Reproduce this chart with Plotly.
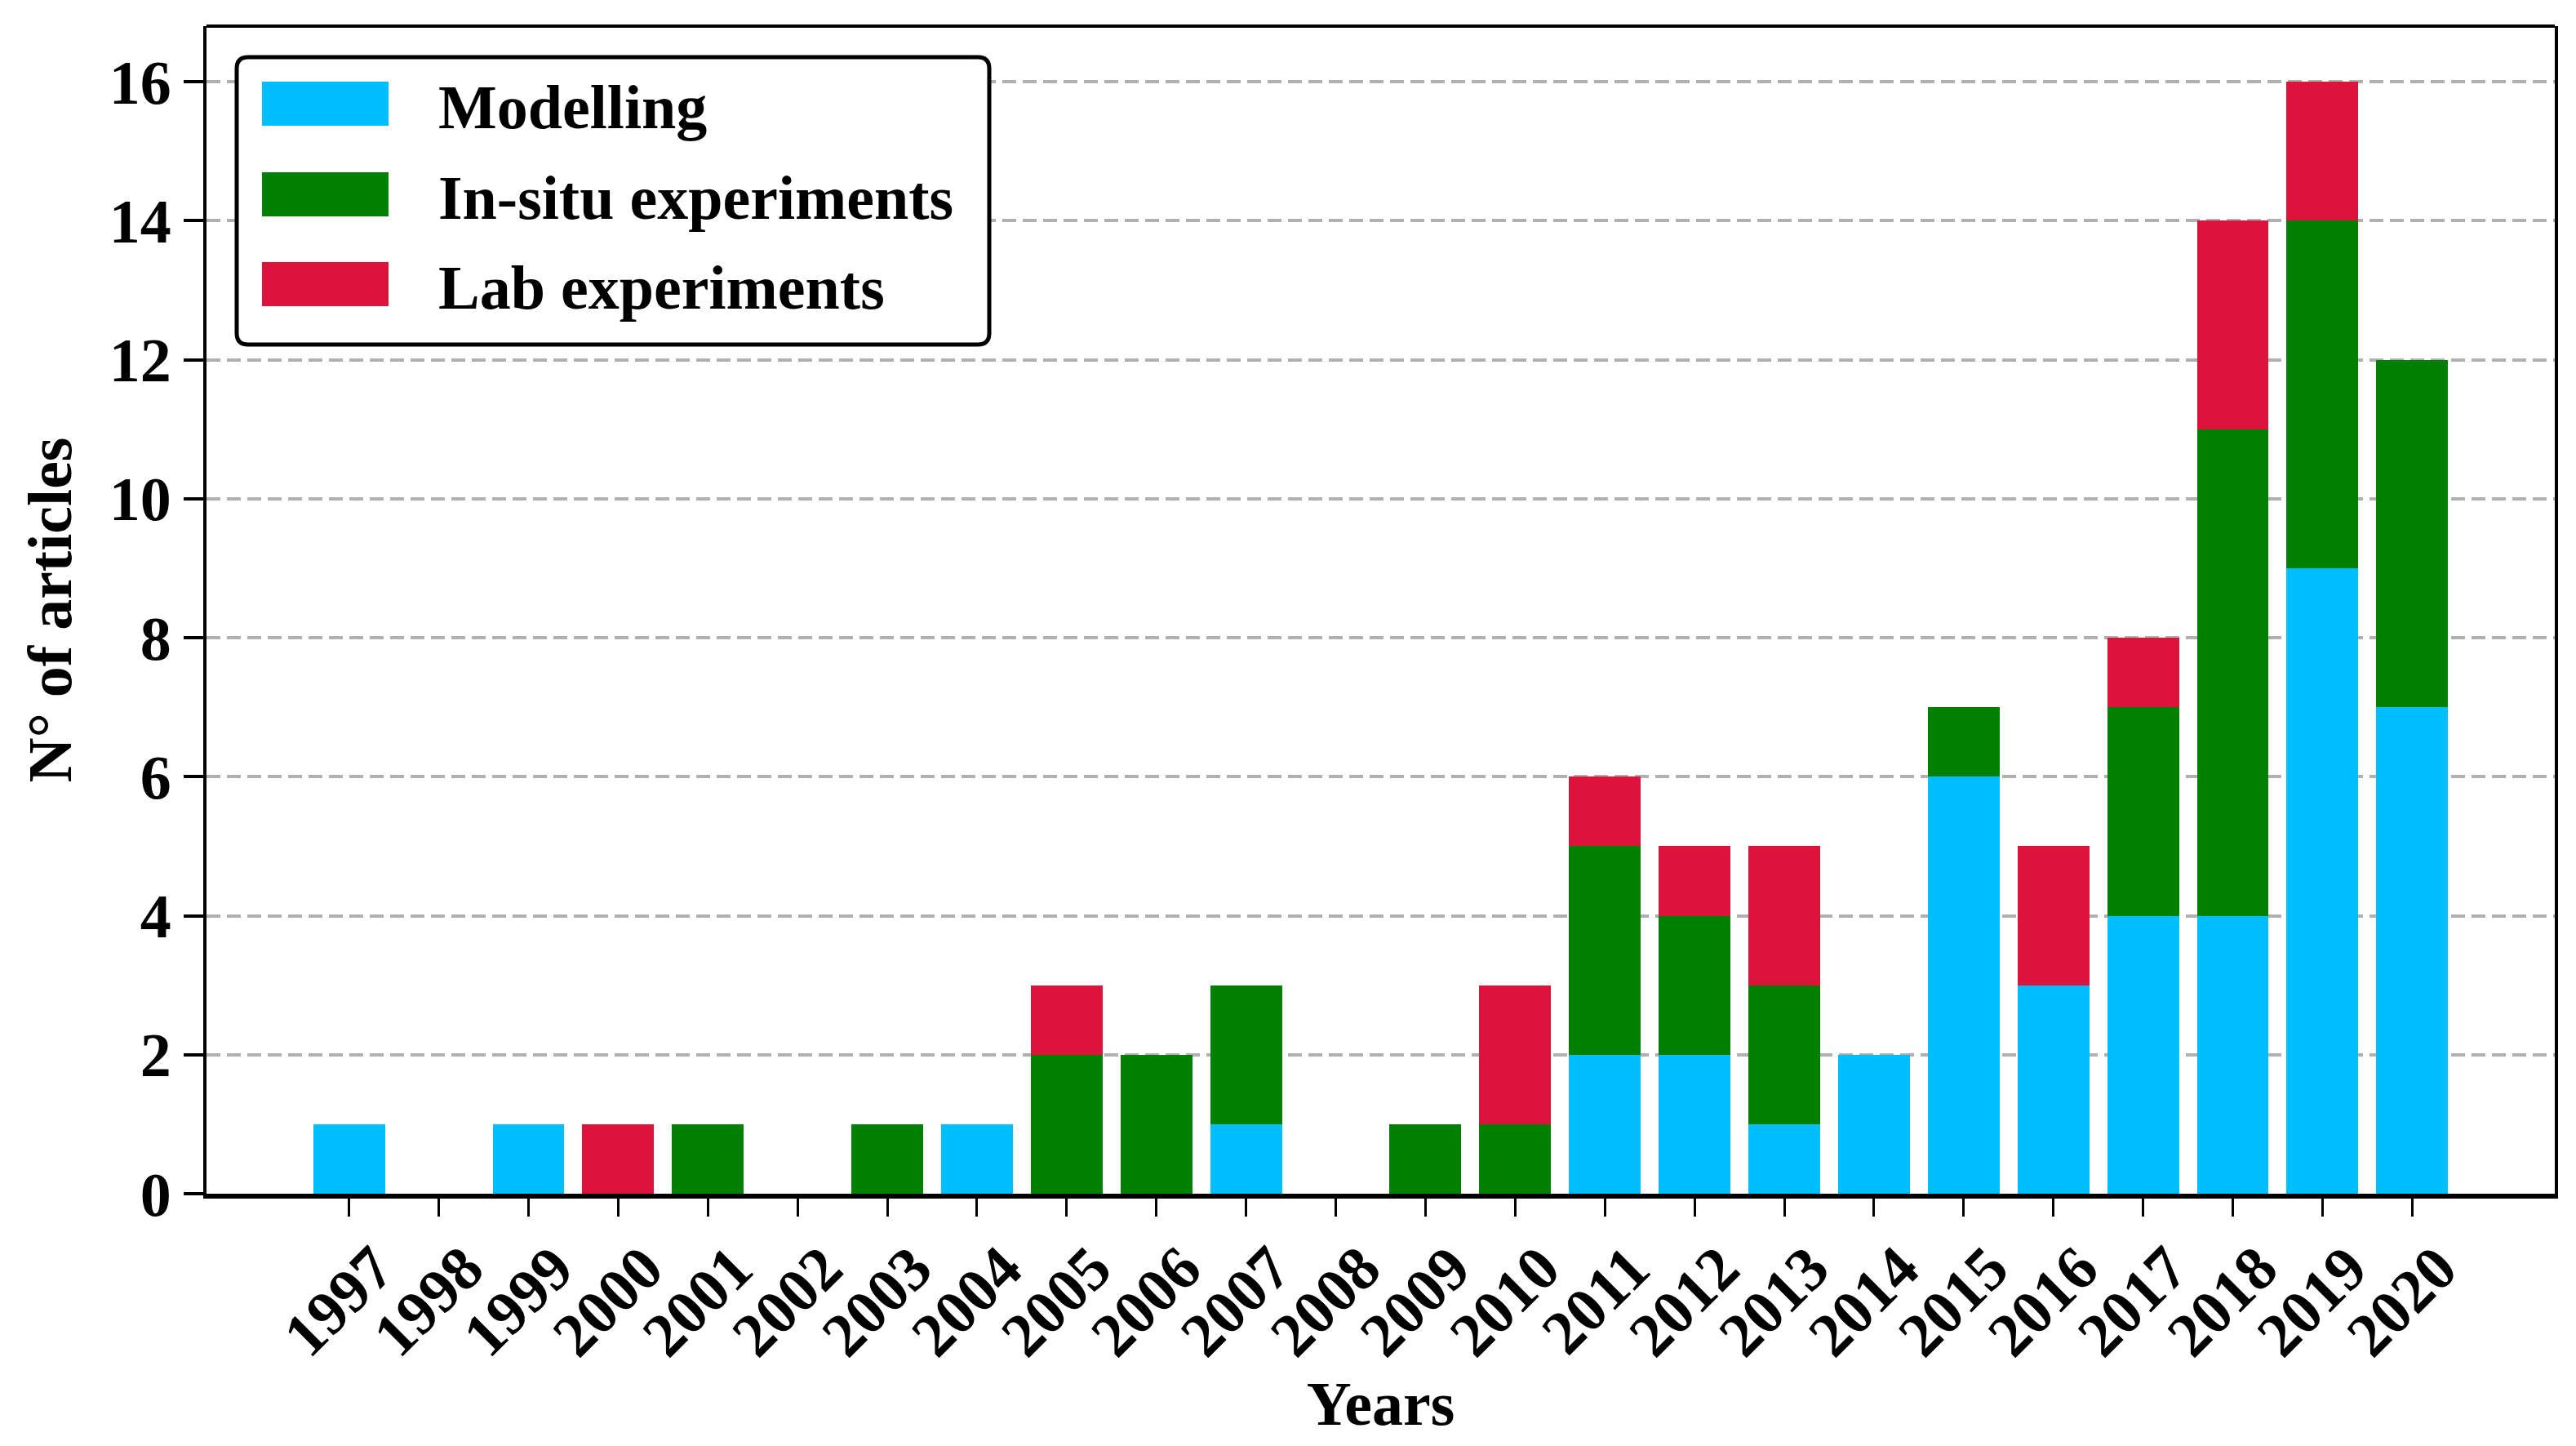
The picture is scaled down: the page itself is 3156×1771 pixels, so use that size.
import plotly.graph_objects as go

years = ["1997", "1998", "1999", "2000", "2001", "2002", "2003", "2004", "2005", "2006",
         "2007", "2008", "2009", "2010", "2011", "2012", "2013", "2014", "2015", "2016",
         "2017", "2018", "2019", "2020"]
modelling = [1, 0, 1, 0, 0, 0, 0, 1, 0, 0, 1, 0, 0, 0, 2, 2, 1, 2, 6, 3, 4, 4, 9, 7]
in_situ = [0, 0, 0, 0, 1, 0, 1, 0, 2, 2, 2, 0, 1, 1, 3, 2, 2, 0, 1, 0, 3, 7, 5, 5]
lab = [0, 0, 0, 1, 0, 0, 0, 0, 1, 0, 0, 0, 0, 2, 1, 1, 2, 0, 0, 2, 1, 3, 2, 0]
y_ticks = [0, 2, 4, 6, 8, 10, 12, 14, 16]

series_names = ["Modelling", "In-situ experiments", "Lab experiments"]
series_colors = ["#00BFFF", "#008000", "#DC143C"]

FONT = "Liberation Serif"
FS = 76
OFF = 8  # page body margin
W, H = 3156 - OFF, 1771 - OFF
ML, MR, MT, MB = 253 - OFF, 26, 32 - OFF, 309
PW = W - ML - MR
PH = H - MT - MB


def px_x(px):
    return (px - OFF - ML) / PW


def px_y(py):
    return (H - MB - (py - OFF)) / PH


fig = go.Figure()
for name, vals, col in zip(series_names, [modelling, in_situ, lab], series_colors):
    fig.add_trace(go.Bar(name=name, x=years, y=vals, marker_color=col,
                         marker_line_width=0, showlegend=False))

# legend box (rounded rectangle) drawn in paper coordinates
bx0, bx1, by0, by1, r = 290, 1212, 70, 422, 14
path = (
    f"M {px_x(bx0 + r)},{px_y(by0)} L {px_x(bx1 - r)},{px_y(by0)} "
    f"Q {px_x(bx1)},{px_y(by0)} {px_x(bx1)},{px_y(by0 + r)} "
    f"L {px_x(bx1)},{px_y(by1 - r)} "
    f"Q {px_x(bx1)},{px_y(by1)} {px_x(bx1 - r)},{px_y(by1)} "
    f"L {px_x(bx0 + r)},{px_y(by1)} "
    f"Q {px_x(bx0)},{px_y(by1)} {px_x(bx0)},{px_y(by1 - r)} "
    f"L {px_x(bx0)},{px_y(by0 + r)} "
    f"Q {px_x(bx0)},{px_y(by0)} {px_x(bx0 + r)},{px_y(by0)} Z"
)
shapes = [
    dict(type="line", xref="paper", yref="paper", x0=0, x1=1, y0=1, y1=1,
         line=dict(color="black", width=4)),
    dict(type="path", xref="paper", yref="paper", path=path,
         fillcolor="white", line=dict(color="black", width=5), layer="above"),
]
annotations = []
row_centers = [127, 238, 348]
for name, col, cy in zip(series_names, series_colors, row_centers):
    shapes.append(dict(type="rect", xref="paper", yref="paper",
                       x0=px_x(321), x1=px_x(476), y0=px_y(cy - 27), y1=px_y(cy + 27),
                       fillcolor=col, line=dict(width=0), layer="above"))
    annotations.append(dict(text=name, xref="paper", yref="paper", x=px_x(535), y=px_y(cy + 4),
                            xanchor="left", yanchor="middle", showarrow=False,
                            font=dict(family=FONT, size=FS, weight="bold", color="black")))

fig.update_layout(
    width=W, height=H,
    barmode="stack", bargap=0.2,
    plot_bgcolor="white", paper_bgcolor="white",
    margin=dict(l=ML, r=MR, t=MT, b=MB),
    font=dict(family=FONT, size=FS, color="black", weight="bold"),
    showlegend=False,
    shapes=shapes,
    annotations=annotations,
)

fig.update_xaxes(
    type="category", range=[-1.59, 24.59],
    showline=True, linecolor="black", linewidth=6, mirror=False,
    ticks="outside", ticklen=22, tickwidth=3, tickcolor="black",
    tickangle=-45, ticklabelshift=32, ticklabelstandoff=-12,
    tickfont=dict(family=FONT, size=FS, weight="bold"),
    showgrid=False,
    title=dict(text="Years", standoff=8, font=dict(family=FONT, size=FS, weight="bold")),
)
fig.update_yaxes(
    range=[0, 16.8], tickvals=y_ticks,
    showline=True, linecolor="black", linewidth=4, mirror=True,
    ticks="outside", ticklen=24, tickwidth=4, tickcolor="black",
    tickfont=dict(family=FONT, size=FS, weight="bold"),
    showgrid=True, gridcolor="#b0b0b0", gridwidth=4, griddash="17px,8px",
    zeroline=False,
    title=dict(text="N° of articles", standoff=22, font=dict(family=FONT, size=FS, weight="bold")),
)

fig.write_html("out.html")
